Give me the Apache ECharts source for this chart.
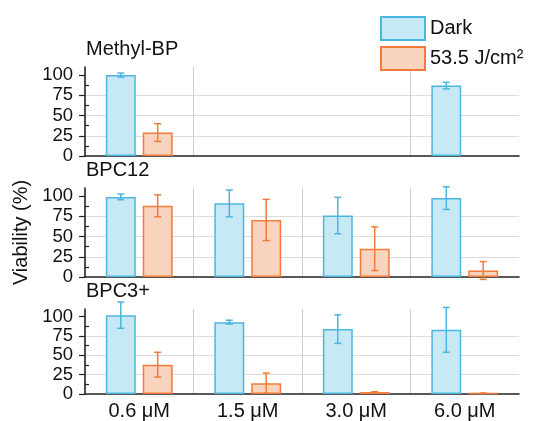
<!DOCTYPE html>
<html>
<head>
<meta charset="utf-8">
<title>Viability</title>
<script src="https://cdn.jsdelivr.net/npm/echarts@6/dist/echarts.min.js"></script>
<style>
  html, body { margin: 0; padding: 0; background: #fff; }
  #main { width: 541px; height: 421px; }
</style>
</head>
<body>
<div id="main"></div>
<script>
// categories and panels
var concentrations = ['0.6 μM', '1.5 μM', '3.0 μM', '6.0 μM'];
var panelNames = ['Methyl-BP', 'BPC12', 'BPC3+'];
var yTicks = [0, 25, 50, 75, 100];
var yMinorTicks = [12.5, 37.5, 62.5, 87.5];

// viability (%) and error, null = not measured
var methylDark = [100, null, null, 87];
var methylDarkErr = [2.5, null, null, 4];
var methylLight = [29, null, null, null];
var methylLightErr = [11, null, null, null];

var bpc12Dark = [99, 91, 76, 97.5];
var bpc12DarkErr = [3.5, 16.5, 22.5, 14];
var bpc12Light = [88, 70.5, 35, 8];
var bpc12LightErr = [13.5, 25.5, 27, 11];

var bpc3Dark = [102, 93, 84, 83];
var bpc3DarkErr = [17, 2.5, 18.5, 29];
var bpc3Light = [38, 14, 2.5, 1];
var bpc3LightErr = [16, 13, 0.5, 0.3];

var DARK = 'Dark';
var LIGHT = '53.5 J/cm²';
var blueLine = '#4bb6e0', blueFill = '#c7e8f5';
var orangeLine = '#f27b3b', orangeFill = '#f8d3bd';
var CAT_GAP = 0.384, BAR_GAP = 0.233;
var FONT = 'Liberation Sans';

var panels = [
  { dark: methylDark, darkErr: methylDarkErr, light: methylLight, lightErr: methylLightErr },
  { dark: bpc12Dark, darkErr: bpc12DarkErr, light: bpc12Light, lightErr: bpc12LightErr },
  { dark: bpc3Dark, darkErr: bpc3DarkErr, light: bpc3Light, lightErr: bpc3LightErr }
];
var gridTops = [67, 188, 309];

function errData(vals, errs) {
  var out = [];
  for (var i = 0; i < vals.length; i++) {
    if (vals[i] != null && errs[i] != null) out.push([i, vals[i], errs[i]]);
  }
  return out;
}

function errRenderer(side, color) {
  return function (params, api) {
    var x = api.value(0), v = api.value(1), e = api.value(2);
    var hi = api.coord([x, v + e]);
    var lo = api.coord([x, v - e]);
    var band = api.size([1, 0])[0];
    var barW = band * (1 - CAT_GAP) / (2 + BAR_GAP);
    var cx = hi[0] + side * barW * (1 + BAR_GAP) / 2;
    var cap = 3.5;
    var st = { stroke: color, lineWidth: 1.5 };
    return {
      type: 'group',
      children: [
        { type: 'line', shape: { x1: cx, y1: hi[1], x2: cx, y2: lo[1] }, style: st },
        { type: 'line', shape: { x1: cx - cap, y1: hi[1], x2: cx + cap, y2: hi[1] }, style: st },
        { type: 'line', shape: { x1: cx - cap, y1: lo[1], x2: cx + cap, y2: lo[1] }, style: st }
      ]
    };
  };
}

var grids = [], xAxes = [], yAxes = [], series = [], titles = [];
panels.forEach(function (p, k) {
  grids.push({ left: 85, right: 22, top: gridTops[k], height: 89 });
  titles.push({
    text: panelNames[k], left: 86, top: gridTops[k] - 28,
    padding: 0,
    textStyle: { fontSize: 20, fontWeight: 'normal', color: '#111', fontFamily: FONT }
  });
  xAxes.push({
    type: 'category', gridIndex: k, data: concentrations,
    axisLine: { lineStyle: { color: '#222', width: 1.6 } },
    axisTick: { show: false },
    axisLabel: { show: k === 2, fontSize: 20, color: '#111', margin: 7, fontFamily: FONT },
    splitLine: {
      show: true, showMinLine: false, showMaxLine: false,
      lineStyle: { color: k === 0 ? ['#cfcfcf', 'transparent', '#cfcfcf'] : '#cfcfcf', width: 1 }
    }
  });
  yAxes.push({
    type: 'value', gridIndex: k, min: 0, max: 110, interval: 25,
    name: k === 1 ? 'Viability (%)' : '',
    nameLocation: 'middle', nameGap: 46,
    nameTextStyle: { fontSize: 20, color: '#111', fontFamily: FONT },
    axisLine: { show: true, lineStyle: { color: '#222', width: 1.6 } },
    axisTick: { show: true, length: 6, customValues: yTicks, lineStyle: { color: '#222', width: 1.2 } },
    axisLabel: { fontSize: 18.5, color: '#111', margin: 12, customValues: yTicks, fontFamily: FONT },
    splitLine: { show: true, showMinLine: false, showMaxLine: false, lineStyle: { color: '#dcdcdc', width: 1.2 } }
  });
  // overlay axis carrying only the minor ticks
  yAxes.push({
    type: 'value', gridIndex: k, min: 0, max: 110, position: 'left', offset: 0,
    axisLine: { show: false, onZero: false },
    axisTick: { show: true, inside: true, length: 4, customValues: yMinorTicks, lineStyle: { color: '#222', width: 1.2 } },
    axisLabel: { show: false },
    splitLine: { show: false }
  });
  var yi = k * 2;
  series.push({
    name: DARK, type: 'bar', xAxisIndex: k, yAxisIndex: yi, data: p.dark,
    barCategoryGap: (CAT_GAP * 100) + '%', barGap: (BAR_GAP * 100) + '%',
    itemStyle: { color: blueFill, borderColor: blueLine, borderWidth: 1.5 }
  });
  series.push({
    name: LIGHT, type: 'bar', xAxisIndex: k, yAxisIndex: yi, data: p.light,
    barCategoryGap: (CAT_GAP * 100) + '%', barGap: (BAR_GAP * 100) + '%',
    itemStyle: { color: orangeFill, borderColor: orangeLine, borderWidth: 1.5 }
  });
  series.push({
    type: 'custom', xAxisIndex: k, yAxisIndex: yi, clip: false, z: 5,
    encode: { x: 0, y: 1 },
    renderItem: errRenderer(-1, blueLine), data: errData(p.dark, p.darkErr)
  });
  series.push({
    type: 'custom', xAxisIndex: k, yAxisIndex: yi, clip: false, z: 5,
    encode: { x: 0, y: 1 },
    renderItem: errRenderer(1, orangeLine), data: errData(p.light, p.lightErr)
  });
});

var myChart = echarts.init(document.getElementById('main'), null, { renderer: 'canvas' });
myChart.setOption({
  animation: false,
  backgroundColor: '#fff',
  textStyle: { fontFamily: FONT },
  title: titles,
  legend: {
    data: [DARK, LIGHT], orient: 'vertical', left: 380, top: 16, padding: 0,
    icon: 'rect', itemWidth: 44, itemHeight: 23, itemGap: 5,
    textStyle: { fontSize: 20, color: '#111', fontFamily: FONT }
  },
  grid: grids,
  xAxis: xAxes,
  yAxis: yAxes,
  series: series
});
</script>
</body>
</html>
